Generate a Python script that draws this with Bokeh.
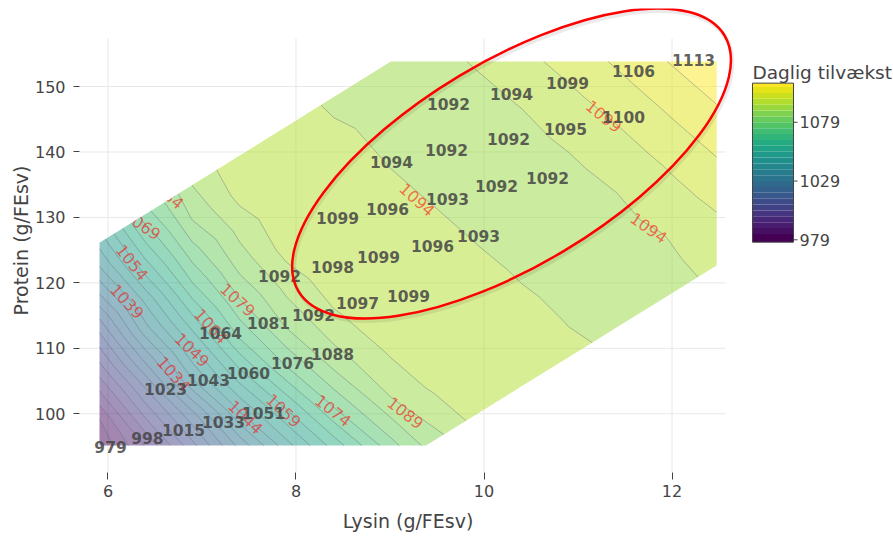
import numpy as np
from bokeh.plotting import figure
from bokeh.models import Range1d, FixedTicker
from bokeh.layouts import row
from bokeh.core.properties import value
from bokeh.palettes import Viridis256
from bokeh.embed import file_html
from bokeh.resources import INLINE

# ---------------- data ----------------
# observed daily gain at each trial diet (lysine, protein in g/FEsv)
lysin_pts = [6.027, 6.420, 6.803, 7.229, 7.654,
             6.612, 7.069, 7.495, 7.963, 8.388,
             7.197, 7.707, 8.186, 8.654, 9.197,
             7.824, 8.388, 8.878, 9.452, 9.941,
             8.441, 8.973, 9.612, 10.133, 10.676,
             9.016, 9.601, 10.261, 10.867, 11.484,
             9.622, 10.293, 10.888, 11.590, 12.229]
protein_pts = [94.85, 96.23, 97.45, 98.67, 100.05,
               103.86, 105.09, 106.16, 107.69, 109.21,
               112.27, 113.80, 115.02, 116.85, 118.07,
               120.98, 122.35, 123.88, 125.56, 127.09,
               129.84, 131.36, 132.89, 134.73, 136.10,
               138.40, 140.23, 141.91, 143.44, 145.27,
               147.40, 148.93, 150.61, 152.44, 154.12]
gain_pts = [979, 998, 1015, 1033, 1051,
            1023, 1043, 1060, 1076, 1088,
            1064, 1081, 1092, 1097, 1099,
            1092, 1098, 1099, 1096, 1093,
            1099, 1096, 1093, 1092, 1092,
            1094, 1092, 1092, 1095, 1100,
            1092, 1094, 1099, 1106, 1113]

# response surface: columns of constant lysine,
# rows = fraction of the feasible height (0 = lower edge, 1 = upper edge)
grid_lysin = [5.91, 6.4, 6.9, 7.4, 7.9, 8.4, 9.005, 9.383, 9.9, 10.4, 10.9, 11.4, 11.9, 12.475]
grid_frac = [0.0, 0.125, 0.25, 0.375, 0.5, 0.625, 0.75, 0.875, 1.0]
grid_gain = [
    [979.5, 994.5, 1012.5, 1030.5, 1047.0, 1061.0, 1077.0, 1085.0, 1095.9, 1098.8, 1095.4, 1092.6, 1092.1, 1095.0],
    [983.7, 1004.6, 1023.0, 1044.8, 1060.2, 1075.7, 1088.9, 1093.1, 1098.6, 1097.4, 1093.7, 1092.2, 1092.4, 1096.9],
    [992.8, 1014.2, 1038.7, 1057.6, 1074.3, 1086.9, 1095.0, 1097.7, 1098.4, 1094.9, 1092.5, 1092.1, 1093.6, 1098.8],
    [1001.6, 1025.7, 1048.6, 1069.6, 1084.6, 1093.4, 1098.5, 1098.8, 1095.9, 1093.2, 1092.1, 1092.4, 1095.6, 1101.0],
    [1010.0, 1036.9, 1059.0, 1078.7, 1090.7, 1097.6, 1098.4, 1096.9, 1093.8, 1092.3, 1092.2, 1093.8, 1097.8, 1103.4],
    [1019.1, 1045.2, 1069.1, 1086.0, 1096.3, 1098.7, 1095.7, 1094.2, 1092.5, 1092.1, 1092.8, 1096.1, 1100.2, 1105.8],
    [1029.3, 1055.3, 1077.3, 1090.9, 1098.6, 1097.7, 1093.5, 1092.6, 1092.0, 1092.4, 1095.0, 1098.6, 1103.0, 1108.2],
    [1038.6, 1063.9, 1084.7, 1096.0, 1098.5, 1095.0, 1092.4, 1092.0, 1092.4, 1094.3, 1097.7, 1101.6, 1105.7, 1110.7],
    [1045.8, 1072.2, 1089.2, 1098.6, 1096.4, 1093.1, 1092.1, 1092.4, 1094.3, 1097.4, 1100.8, 1104.6, 1108.6, 1113.3],
]

# outline of the feasible region
hex_lysin = [5.91, 5.91, 9.005, 12.475, 12.475, 9.383]
hex_protein = [95.15, 126.17, 153.82, 153.82, 122.66, 95.15]

# contour levels
level_start, level_end, level_step = 979, 1114, 5

# contour labels (value, position, rotation in degrees)
clabel_val = [1034, 1039, 1044, 1049, 1054, 1059, 1064, 1069, 1074, 1079, 1084, 1089, 1094, 1094, 1099]
clabel_x = [6.700, 6.204, 7.463, 6.896, 6.257, 7.870, 7.098, 6.365, 8.396, 7.381, 6.619, 9.165, 9.289, 11.753, 11.274]
clabel_y = [106.11, 117.20, 99.48, 109.78, 123.16, 100.50, 113.38, 128.89, 100.50, 117.42, 133.81, 100.15, 132.74, 128.41, 145.46]
clabel_angle = [-48, -47, -44, -44, -51, -43, -48, -34, -38, -42, -40, -38, -42, -35, -39]

x_ticks = [6, 8, 10, 12]
y_ticks = [100, 110, 120, 130, 140, 150]
cb_ticks = [979, 1029, 1079]
cb_low, cb_high = 977.0, 1112.3

# hand-drawn annotation ellipse (centre in data units, size in px, angle in deg)
ell_x, ell_y = 10.293, 138.24
ell_w, ell_h, ell_angle = 497, 204, 31

# plot area of the original chart
plot_x0, plot_x1 = 5.697, 12.57
plot_y0, plot_y1 = 91.03, 157.33

# ---------------- derived ----------------
TXT = "#444444"
levels = np.arange(level_start, level_end + 1, level_step)
n_bands = len(levels) - 1
band_colors = [Viridis256[int(round(k * 255 / (n_bands - 1)))] for k in range(n_bands)]

gx = np.asarray(grid_lysin, dtype=float)
ybot = np.interp(gx, [hex_lysin[0], hex_lysin[5], hex_lysin[4]],
                 [hex_protein[0], hex_protein[5], hex_protein[4]])
ytop = np.interp(gx, [hex_lysin[1], hex_lysin[2], hex_lysin[3]],
                 [hex_protein[1], hex_protein[2], hex_protein[3]])
frac = np.asarray(grid_frac)[:, None]
GX = np.tile(gx, (len(grid_frac), 1))
GY = ybot[None, :] + frac * (ytop - ybot)[None, :]
GZ = np.asarray(grid_gain, dtype=float)

FIG_H = 538
BORDER_TOP, BORDER_BOTTOM = 8, 66

# ---------------- main chart ----------------
p = figure(width=740, height=FIG_H,
           x_range=Range1d(5.697, 12.686), y_range=Range1d(91.03, 161.92),
           output_backend="svg", toolbar_location=None,
           min_border_left=79, min_border_right=4,
           min_border_top=BORDER_TOP, min_border_bottom=BORDER_BOTTOM)
p.outline_line_color = None
p.xgrid.visible = False
p.ygrid.visible = False
p.background_fill_color = "white"

for ax in (p.xaxis[0], p.yaxis[0]):
    ax.axis_line_color = None
    ax.major_tick_line_color = TXT
    ax.major_tick_in = 0
    ax.minor_tick_line_color = None
    ax.major_label_text_font = "DejaVu Sans"
    ax.major_label_text_font_size = "16px"
    ax.major_label_text_color = TXT
    ax.axis_label_text_font = "DejaVu Sans"
    ax.axis_label_text_font_size = "19px"
    ax.axis_label_text_font_style = "normal"
    ax.axis_label_text_color = TXT
p.xaxis.ticker = FixedTicker(ticks=x_ticks)
p.yaxis.ticker = FixedTicker(ticks=y_ticks)
p.xaxis.major_tick_out = 7
p.yaxis.major_tick_out = 6
p.xaxis.major_label_standoff = 5
p.yaxis.major_label_standoff = 8
p.xaxis.axis_label = "Lysin (g/FEsv)"
p.yaxis.axis_label = "Protein (g/FEsv)"
p.xaxis.axis_label_standoff = 10
p.yaxis.axis_label_standoff = 0

GRID = "#e8e8e8"
# grid lines under everything
p.segment(x0=x_ticks, y0=[plot_y0] * len(x_ticks), x1=x_ticks, y1=[plot_y1] * len(x_ticks),
          line_color=GRID, line_width=1, level="underlay")
p.segment(x0=[plot_x0] * len(y_ticks), y0=y_ticks, x1=[plot_x1] * len(y_ticks), y1=y_ticks,
          line_color=GRID, line_width=1, level="underlay")

# filled contour surface
p.contour(x=GX, y=GY, z=GZ, levels=levels, fill_color=band_colors, fill_alpha=0.5,
          line_color="#3d4a5c", line_alpha=0.33, line_width=1)

# contour labels
p.text(x=clabel_x, y=clabel_y, text=[str(v) for v in clabel_val],
       angle=list(np.radians(clabel_angle)),
       text_align="center", text_baseline="middle",
       text_font=value("DejaVu Sans"), text_font_size="16px",
       text_color="#ff0000", text_alpha=0.55)

# white cover outside the upper-left edge of the region (hides overflowing labels)
slope1 = (hex_protein[2] - hex_protein[1]) / (hex_lysin[2] - hex_lysin[1])
def line1(x):
    return hex_protein[1] + (x - hex_lysin[1]) * slope1
def line1_inv(y):
    return hex_lysin[1] + (y - hex_protein[1]) / slope1
mask_x = [plot_x0, line1_inv(plot_y1), plot_x0]
mask_y = [line1(plot_x0), plot_y1, plot_y1]
p.patch(x=mask_x, y=mask_y, fill_color="white", line_color=None)
# grid lines inside the covered area
vx = [t for t in x_ticks if line1(t) < plot_y1]
p.segment(x0=vx, y0=[line1(t) for t in vx], x1=vx, y1=[plot_y1] * len(vx),
          line_color=GRID, line_width=1)
hy = [t for t in y_ticks if t > line1(plot_x0)]
p.segment(x0=[plot_x0] * len(hy), y0=hy, x1=[min(line1_inv(t), plot_x1) for t in hy], y1=hy,
          line_color=GRID, line_width=1)

# observed values
p.text(x=lysin_pts, y=protein_pts, text=[str(g) for g in gain_pts],
       text_align="center", text_baseline="middle",
       text_font=value("DejaVu Sans"), text_font_size="15.5px", text_font_style="bold",
       text_color=TXT, text_alpha=0.85)

# red annotation ellipse with a soft shadow
p.ellipse(x=[ell_x + 1.5 / 94.0], y=[ell_y - 2.5 / 6.546], width=[ell_w], height=[ell_h],
          angle=[np.radians(ell_angle)], width_units="screen", height_units="screen",
          fill_color=None, line_color="#000000", line_alpha=0.08, line_width=4)
p.ellipse(x=[ell_x], y=[ell_y], width=[ell_w], height=[ell_h],
          angle=[np.radians(ell_angle)], width_units="screen", height_units="screen",
          fill_color=None, line_color="#ff0000", line_width=2.5)

# ---------------- colour bar ----------------
# vertical scale of the bar: 979 at 239.3 px from the top, 1.1752 px per unit
cb_scale = 1.1752
cb_979_px = 239.3
frame_top_px, frame_bot_px = BORDER_TOP, FIG_H - BORDER_BOTTOM
cb_y_top = 979 + (cb_979_px - frame_top_px) / cb_scale
cb_y_bot = 979 - (frame_bot_px - cb_979_px) / cb_scale

p2 = figure(width=153, height=FIG_H, x_range=Range1d(0, 153), y_range=Range1d(cb_y_bot, cb_y_top),
            output_backend="svg", toolbar_location=None,
            min_border_left=0, min_border_right=0,
            min_border_top=BORDER_TOP, min_border_bottom=BORDER_BOTTOM,
            x_axis_location=None, y_axis_location=None)
p2.outline_line_color = None
p2.xgrid.visible = False
p2.ygrid.visible = False

bar_left, bar_right = 12, 53
band_bottom = np.clip(levels[:-1].astype(float), cb_low, cb_high)
band_top = np.clip(levels[1:].astype(float), cb_low, cb_high)
band_bottom[0] = cb_low
p2.quad(left=bar_left, right=bar_right, bottom=band_bottom, top=band_top,
        fill_color=band_colors, line_color=None)
p2.quad(left=[bar_left], right=[bar_right], bottom=[cb_low], top=[cb_high],
        fill_color=None, line_color=TXT, line_width=1)
p2.segment(x0=[bar_right] * len(cb_ticks), y0=cb_ticks, x1=[bar_right + 4] * len(cb_ticks), y1=cb_ticks,
           line_color=TXT, line_width=1)
p2.text(x=[bar_right + 6] * len(cb_ticks), y=cb_ticks, text=[str(t) for t in cb_ticks],
        text_align="left", text_baseline="middle",
        text_font=value("DejaVu Sans"), text_font_size="16px", text_color=TXT)
p2.text(x=[bar_left], y=[cb_high], text=["Daglig tilvækst"], y_offset=-11,
        text_align="left", text_baseline="alphabetic",
        text_font=value("DejaVu Sans"), text_font_size="18.5px", text_color=TXT)

layout = row(p, p2)
open("out.html", "w").write(file_html(layout, INLINE))
